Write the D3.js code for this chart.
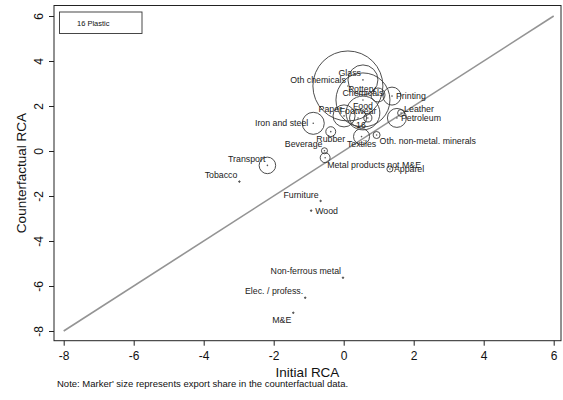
<!DOCTYPE html>
<html>
<head>
<meta charset="utf-8">
<script src="https://cdn.jsdelivr.net/npm/d3@7"></script>
<style>
  body { margin: 0; background: #fff; }
  svg { font-family: "Liberation Sans", Arial, sans-serif; }
</style>
</head>
<body>
<svg id="rca" width="563" height="400"></svg>
<script>
// industries, initial RCA (x), counterfactual RCA (y), export share (marker size)
const industries = ['Tobacco', 'Transport', 'Furniture', 'Wood', 'Non-ferrous metal', 'Elec. / profess.', 'M&E',
  'Iron and steel', 'Rubber', 'Beverage', 'Metal products not M&E', 'Apparel', 'Textiles', 'Oth. non-metal. minerals',
  'Petroleum', 'Leather', 'Printing', 'Glass', 'Oth chemicals', 'Pottery', 'Chemicals', 'Food', 'Footwear', 'Paper', '16'];
const initialRCA = [-2.98, -2.18, -0.66, -0.93, -0.02, -1.10, -1.44,
  -0.87, -0.37, -0.55, -0.53, 1.32, 0.51, 0.94,
  1.52, 1.64, 1.38, 0.55, 0.12, 0.98, 0.55, 0.55, 0.41, 0.01, 0.69];
const counterRCA = [-1.36, -0.64, -2.22, -2.65, -5.63, -6.52, -7.19,
  1.23, 0.86, 0.01, -0.30, -0.80, 0.64, 0.71,
  1.47, 1.69, 2.44, 3.16, 2.89, 2.49, 2.27, 1.69, 1.47, 1.56, 1.47];
const exportShare = [0.005, 0.67, 0.005, 0.005, 0.005, 0.005, 0.005,
  1.19, 0.24, 0.09, 0.24, 0.09, 0.63, 0.12,
  0.88, 0.12, 0.79, 2.20, 12.0, 0.48, 7.14, 2.80, 0.71, 1.19, 0.16];
// marker label clock positions (as in mlabvposition)
const labelClock = [11, 11, 11, 3, 11, 11, 7,
  9, 6, 11, 5, 3, 6, 4,
  3, 2, 3, 11, 11, 11, 12, 12, 12, 11, 7];

const xTicks = [-8, -6, -4, -2, 0, 2, 4, 6];
const yTicks = [-8, -6, -4, -2, 0, 2, 4, 6];
const legendText = '16 Plastic';
const noteText = "Note: Marker' size represents export share in the counterfactual data.";

const svg = d3.select('#rca');
const frame = { left: 54, right: 561, top: 5.5, bottom: 340.7 };

const x = d3.scaleLinear().domain([-8, 6]).range([63.7, 553.7]);
const y = d3.scaleLinear().domain([-8, 6]).range([331, 16]);
const r = d3.scaleSqrt().domain([0, 12]).range([0, 35]);

// plain hyphen for negatives, as in the original
const tickFmt = (d) => String(d);

// plot frame
svg.append('rect')
  .attr('x', frame.left).attr('y', frame.top)
  .attr('width', frame.right - frame.left).attr('height', frame.bottom - frame.top)
  .attr('fill', 'none').attr('stroke', '#222').attr('stroke-width', 1);

// 45 degree line
svg.append('line')
  .attr('x1', x(-8)).attr('y1', y(-8))
  .attr('x2', x(6)).attr('y2', y(6))
  .attr('stroke', '#949494').attr('stroke-width', 1.6);

// x axis
const xAxis = svg.append('g')
  .attr('transform', `translate(0,${frame.bottom})`)
  .call(d3.axisBottom(x).tickValues(xTicks).tickSize(5).tickPadding(6).tickFormat(tickFmt));
xAxis.select('.domain').remove();
xAxis.selectAll('line').attr('stroke', '#222');
xAxis.selectAll('text').attr('font-size', 12).attr('fill', '#111')
  .style('font-family', '"Liberation Sans", Arial, sans-serif');

// y axis, labels turned like Stata
const yAxis = svg.append('g')
  .attr('transform', `translate(${frame.left},0)`)
  .call(d3.axisLeft(y).tickValues(yTicks).tickSize(5).tickFormat(tickFmt));
yAxis.select('.domain').remove();
yAxis.selectAll('line').attr('stroke', '#222');
yAxis.selectAll('text')
  .attr('transform', 'rotate(-90)')
  .attr('x', 0).attr('y', -11).attr('dy', 0)
  .attr('text-anchor', 'middle')
  .attr('font-size', 12).attr('fill', '#111')
  .style('font-family', '"Liberation Sans", Arial, sans-serif');

// axis titles
svg.append('text')
  .attr('x', (frame.left + frame.right) / 2).attr('y', 376.5)
  .attr('text-anchor', 'middle').attr('font-size', 13.5).attr('fill', '#111')
  .text('Initial RCA');

svg.append('text')
  .attr('transform', `translate(26,${(frame.top + frame.bottom) / 2}) rotate(-90)`)
  .attr('text-anchor', 'middle').attr('font-size', 13.5).attr('fill', '#111')
  .text('Counterfactual RCA');

svg.append('text')
  .attr('x', 57).attr('y', 386.5)
  .attr('font-size', 9.5).attr('fill', '#111')
  .text(noteText);

// legend box
svg.append('rect')
  .attr('x', 59.5).attr('y', 12).attr('width', 82.5).attr('height', 21.5)
  .attr('fill', '#fff').attr('stroke', '#333').attr('stroke-width', 0.9);
svg.append('text')
  .attr('x', 77).attr('y', 25.5)
  .attr('font-size', 7.5).attr('fill', '#111')
  .text(legendText);

const data = industries.map((name, i) => ({
  name, x: initialRCA[i], y: counterRCA[i], share: exportShare[i], clock: labelClock[i]
}));

// weighted hollow markers
svg.append('g').selectAll('circle')
  .data(data)
  .join('circle')
  .attr('cx', (d) => x(d.x))
  .attr('cy', (d) => y(d.y))
  .attr('r', (d) => r(d.share))
  .attr('fill', 'none')
  .attr('stroke', '#3a3a3a')
  .attr('stroke-width', 0.9);

// centre dots
svg.append('g').selectAll('circle')
  .data(data)
  .join('circle')
  .attr('cx', (d) => x(d.x))
  .attr('cy', (d) => y(d.y))
  .attr('r', 0.8)
  .attr('fill', '#555');

// marker labels
const clockOffset = {
  2: { dx: 3, dy: -4, anchor: 'start' },
  3: { dx: 4, dy: 0, anchor: 'start' },
  4: { dx: 3, dy: 6, anchor: 'start' },
  5: { dx: 2, dy: 7, anchor: 'start' },
  6: { dx: 0, dy: 7.5, anchor: 'middle' },
  7: { dx: -2, dy: 7, anchor: 'end' },
  9: { dx: -5, dy: 0, anchor: 'end' },
  11: { dx: -2, dy: -6.5, anchor: 'end' },
  12: { dx: 0, dy: -7, anchor: 'middle' }
};

svg.append('g').selectAll('text')
  .data(data)
  .join('text')
  .attr('x', (d) => x(d.x) + clockOffset[d.clock].dx)
  .attr('y', (d) => y(d.y) + clockOffset[d.clock].dy)
  .attr('dy', '0.35em')
  .attr('text-anchor', (d) => clockOffset[d.clock].anchor)
  .attr('font-size', 8.8)
  .attr('fill', '#222')
  .text((d) => d.name);
</script>
</body>
</html>
